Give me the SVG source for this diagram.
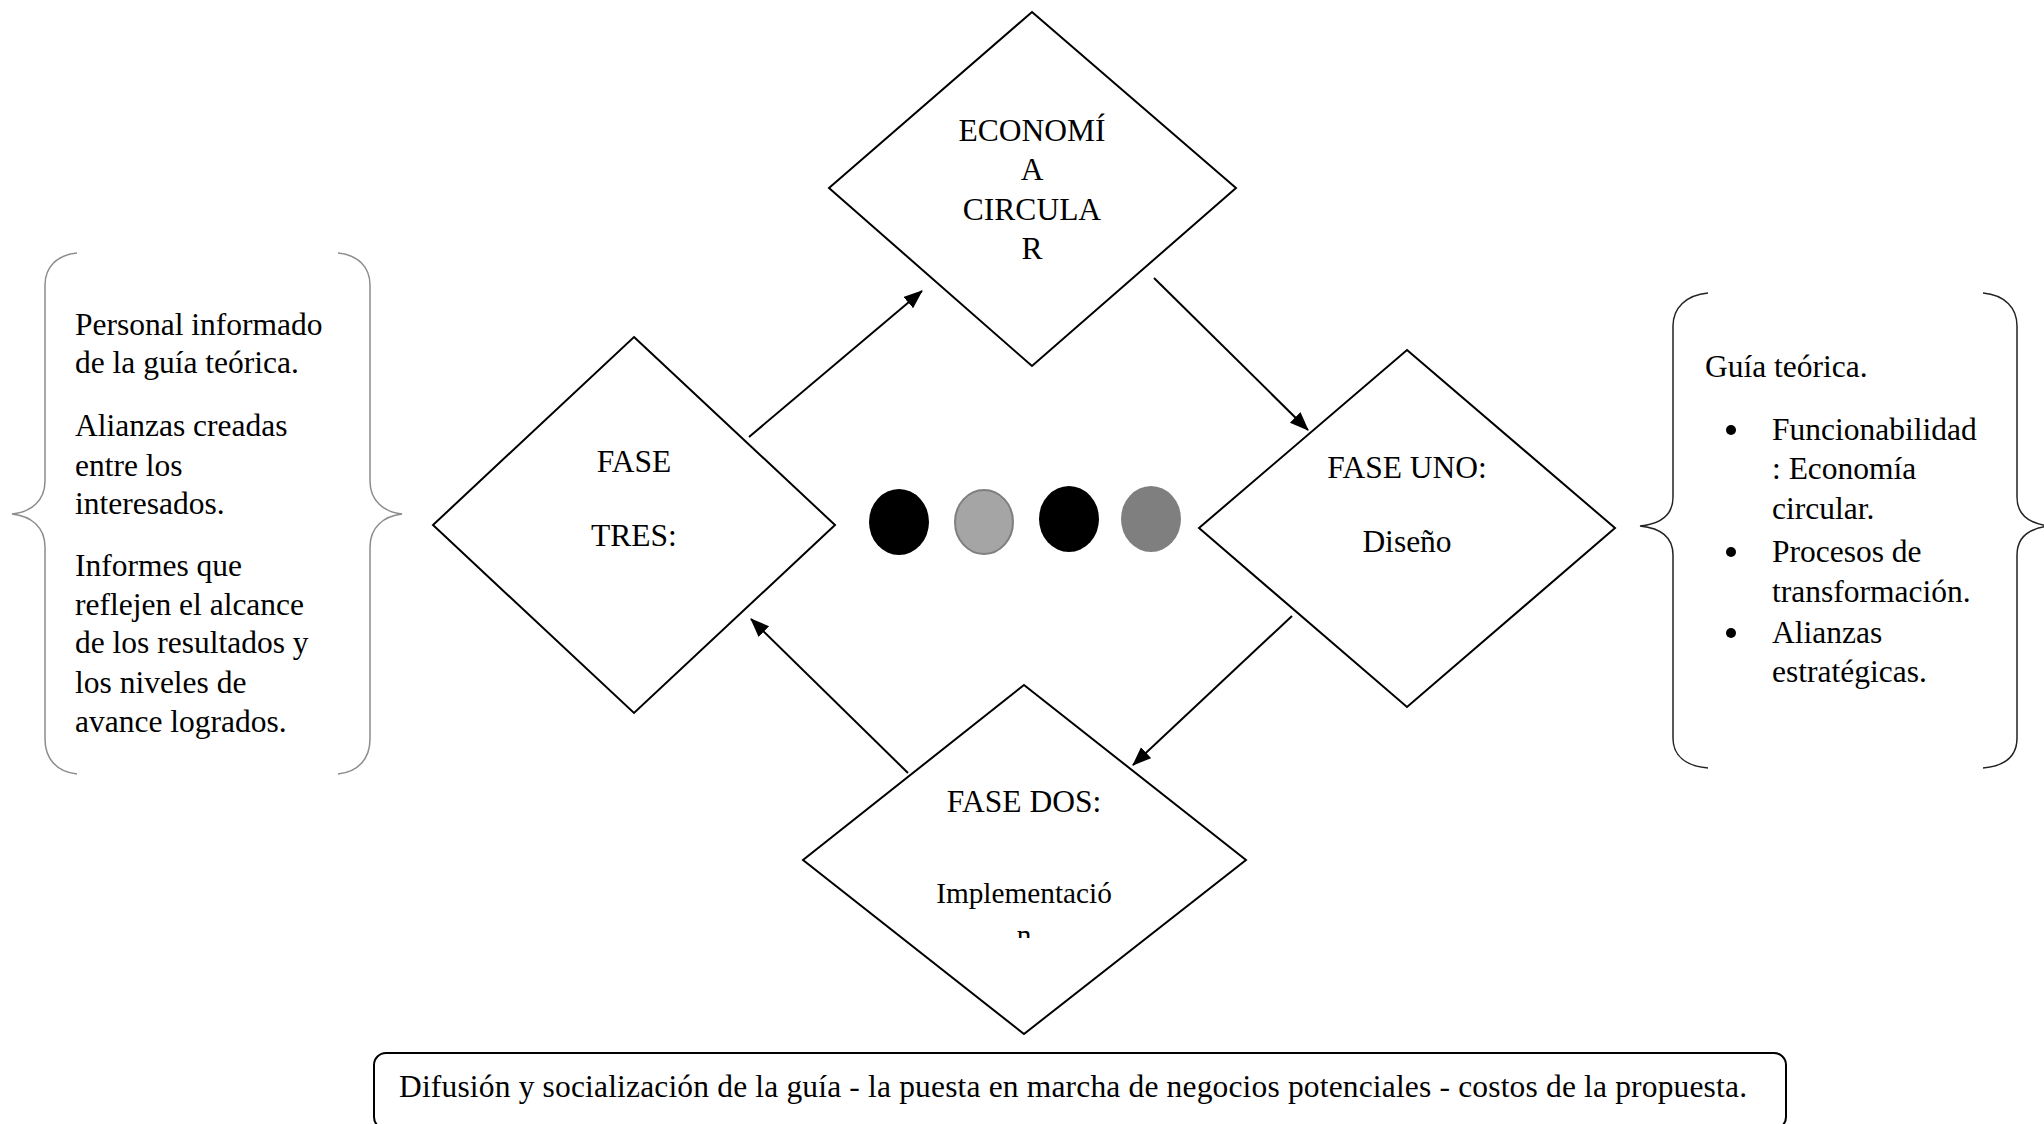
<svg xmlns="http://www.w3.org/2000/svg" width="2044" height="1124" viewBox="0 0 2044 1124">
<defs>
<style>
.d{fill:#fff;stroke:#000;stroke-width:2}
.t{font-family:"Liberation Serif","Times New Roman",serif;font-size:31.5px;fill:#000}
.c{text-anchor:middle}
.a{stroke:#000;stroke-width:2;fill:none;marker-end:url(#ah)}
.bl{fill:none;stroke:#8c8c8c;stroke-width:1.5}
.br{fill:none;stroke:#222;stroke-width:1.5}
</style>
<marker id="ah" markerUnits="userSpaceOnUse" markerWidth="20" markerHeight="16" refX="18" refY="7.5" orient="auto">
<path d="M0,0 L19,7.5 L0,15 z" fill="#000"/>
</marker>
<clipPath id="clipImpl"><rect x="900" y="860" width="260" height="78"/></clipPath>
</defs>
<rect width="2044" height="1124" fill="#fff"/>

<g id="connectors">
<line class="a" x1="749" y1="437" x2="922" y2="291"/>
<line class="a" x1="1154" y1="278" x2="1308" y2="430"/>
<line class="a" x1="1292" y1="616" x2="1133" y2="765"/>
<line class="a" x1="908" y1="773" x2="751" y2="619"/>
</g>

<g id="economia">
<polygon class="d" points="1032,12 1236,188 1032,366 829,188"/>
<text class="t c" x="1032" y="141">ECONOMÍ</text>
<text class="t c" x="1032" y="180">A</text>
<text class="t c" x="1032" y="220">CIRCULA</text>
<text class="t c" x="1032" y="259">R</text>
</g>

<g id="fase-tres">
<polygon class="d" points="634,337 835,525 634,713 433,525"/>
<text class="t c" x="634" y="472">FASE</text>
<text class="t c" x="634" y="546">TRES:</text>
</g>

<g id="fase-uno">
<polygon class="d" points="1407,350 1615,528 1407,707 1199,528"/>
<text class="t c" x="1407" y="478">FASE UNO:</text>
<text class="t c" x="1407" y="552">Diseño</text>
</g>

<g id="fase-dos">
<polygon class="d" points="1024,685 1246,860 1024,1034 803,860"/>
<text class="t c" x="1024" y="812">FASE DOS:</text>
<g clip-path="url(#clipImpl)">
<text class="t c" x="1024" y="903" style="font-size:29.3px">Implementació</text>
<text class="t c" x="1024" y="945" style="font-size:29.3px">n</text>
</g>
</g>

<g id="dots">
<ellipse cx="899" cy="522" rx="30" ry="33" fill="#000"/>
<ellipse cx="984" cy="522" rx="29" ry="32" fill="#a5a5a5" stroke="#7f7f7f" stroke-width="2"/>
<ellipse cx="1069" cy="519" rx="30" ry="33" fill="#000"/>
<ellipse cx="1151" cy="519" rx="30" ry="33" fill="#7f7f7f"/>
</g>

<g id="resultados">
<path class="bl" d="M77,253 C57,255 45,267 45,285 L45,481 C45,501 31,512 12,514 C31,516 45,527 45,547 L45,739 C45,759 57,772 77,774"/>
<path class="bl" d="M338,253 C358,255 370,267 370,285 L370,481 C370,501 384,512 402,514 C384,516 370,527 370,547 L370,739 C370,759 358,772 338,774"/>
<text class="t" x="75" y="335">Personal informado</text>
<text class="t" x="75" y="373">de la guía teórica.</text>
<text class="t" x="75" y="436">Alianzas creadas</text>
<text class="t" x="75" y="476">entre los</text>
<text class="t" x="75" y="514">interesados.</text>
<text class="t" x="75" y="576">Informes que</text>
<text class="t" x="75" y="615">reflejen el alcance</text>
<text class="t" x="75" y="653">de los resultados y</text>
<text class="t" x="75" y="693">los niveles de</text>
<text class="t" x="75" y="732">avance logrados.</text>
</g>

<g id="guia">
<path class="br" d="M1708,293 C1686,295 1673,308 1673,326 L1673,497 C1673,515 1660,524 1640,526 C1660,528 1673,537 1673,555 L1673,738 C1673,756 1686,766 1708,768"/>
<path class="br" d="M1983,293 C2005,295 2017,308 2017,326 L2017,497 C2017,515 2030,524 2050,526 C2030,528 2017,537 2017,555 L2017,738 C2017,756 2005,766 1983,768"/>
<text class="t" x="1705" y="377">Guía teórica.</text>
<circle cx="1731" cy="430" r="5"/>
<text class="t" x="1772" y="440">Funcionabilidad</text>
<text class="t" x="1772" y="479">: Economía</text>
<text class="t" x="1772" y="519">circular.</text>
<circle cx="1731" cy="552" r="5"/>
<text class="t" x="1772" y="562">Procesos de</text>
<text class="t" x="1772" y="602">transformación.</text>
<circle cx="1731" cy="633" r="5"/>
<text class="t" x="1772" y="643">Alianzas</text>
<text class="t" x="1772" y="682">estratégicas.</text>
</g>

<g id="difusion">
<rect x="374" y="1053" width="1412" height="76" rx="12" ry="12" fill="#fff" stroke="#000" stroke-width="2"/>
<text class="t" x="399" y="1097" textLength="1348" lengthAdjust="spacing">Difusión y socialización de la guía - la puesta en marcha de negocios potenciales - costos de la propuesta.</text>
</g>
</svg>
